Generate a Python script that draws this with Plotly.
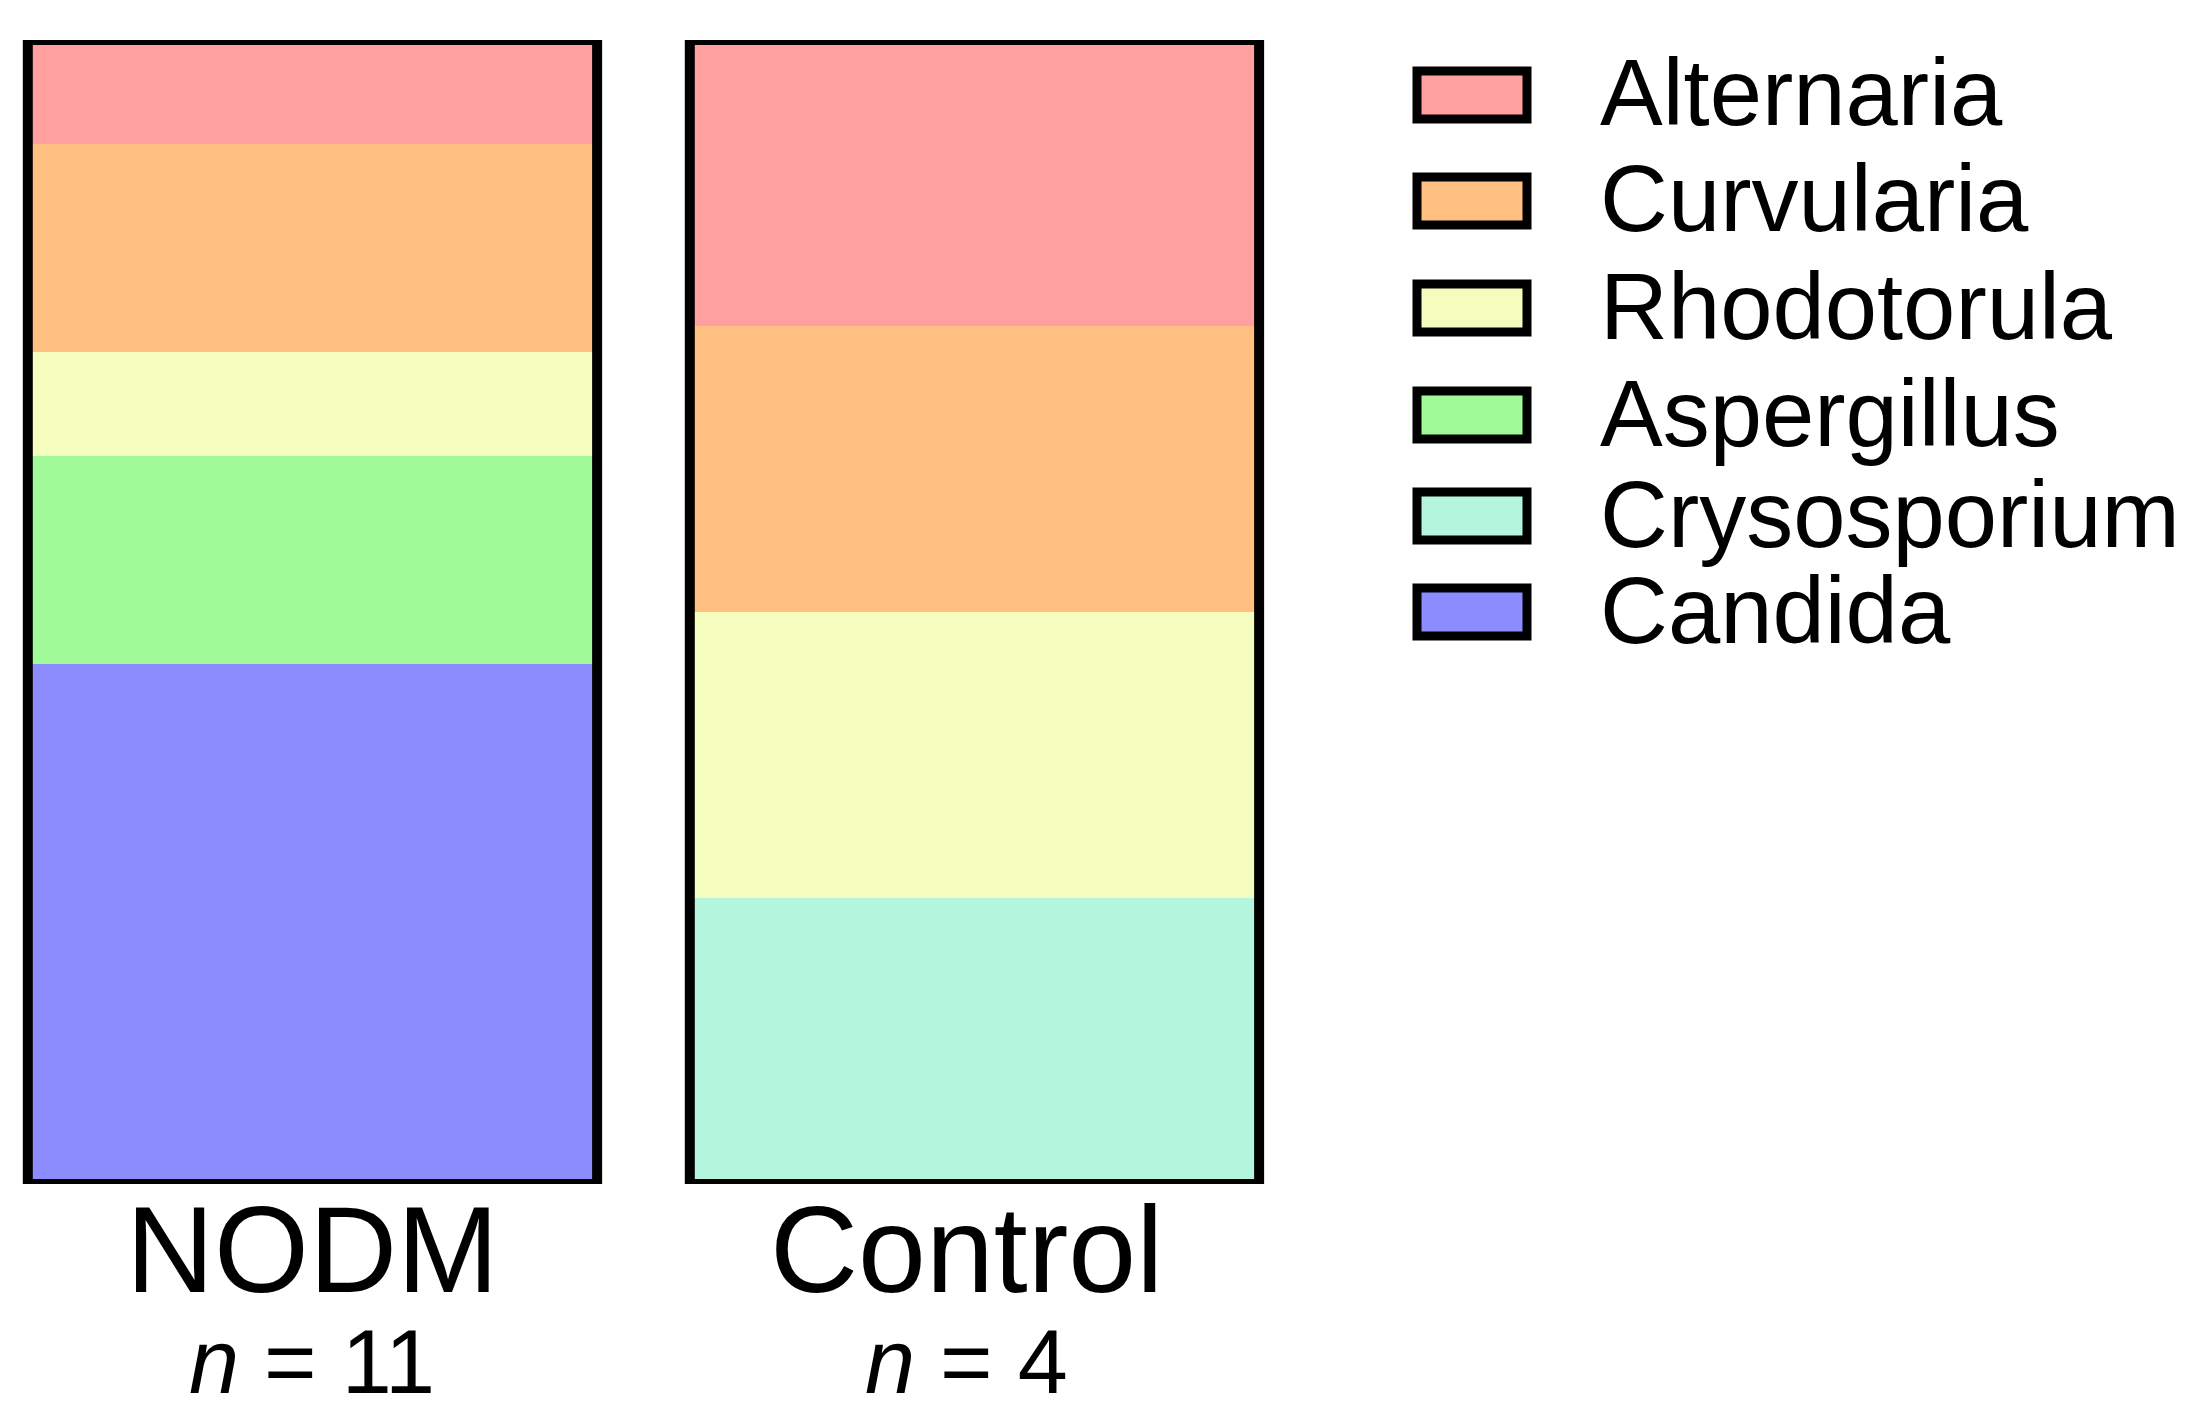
import plotly.graph_objects as go

# ---- data ----
groups = ["NODM", "Control"]
n_values = [11, 4]
genera = ["Alternaria", "Curvularia", "Rhodotorula", "Aspergillus", "Crysosporium", "Candida"]
colors = ["#FF9F9F", "#FFBF80", "#F4FCBE", "#A0FA98", "#B4F5DD", "#8C8CFF"]
counts_nodm = [1, 2, 1, 2, 0, 5]
counts_control = [1, 1, 1, 0, 1, 0]

W, H = 2208, 1426
def px_x(p): return p / W
def px_y(p): return 1 - p / H

counts = [counts_nodm, counts_control]
pct = [[c / n * 100 for c in cs] for cs, n in zip(counts, n_values)]

BAR_W = 0.86
fig = go.Figure()

# stack bottom-to-top: reverse of legend order
base = [0.0, 0.0]
for gi in reversed(range(len(genera))):
    ys = [pct[0][gi], pct[1][gi]]
    fig.add_trace(go.Bar(
        x=groups, y=ys, base=list(base), width=BAR_W,
        name=genera[gi],
        marker=dict(color=colors[gi], line=dict(width=0)),
        showlegend=False, hoverinfo="skip",
    ))
    base = [b + y for b, y in zip(base, ys)]

# outline of each bar
fig.add_trace(go.Bar(
    x=groups, y=base, base=[0, 0], width=BAR_W,
    marker=dict(color="rgba(0,0,0,0)", line=dict(color="black", width=10)),
    showlegend=False, hoverinfo="skip",
))

annotations = []
shapes = []
label_shift = [0, -8]
# group labels
for g, n, xs in zip(groups, n_values, label_shift):
    annotations.append(dict(x=g, xref="x", y=px_y(1250), yref="paper", text=g, xshift=xs,
                            showarrow=False, xanchor="center", yanchor="middle",
                            font=dict(family="Liberation Sans, Arial", size=122, color="black")))
    annotations.append(dict(x=g, xref="x", y=px_y(1362), yref="paper", xshift=xs,
                            text=f"<i>n</i> = {n}",
                            showarrow=False, xanchor="center", yanchor="middle",
                            font=dict(family="Liberation Sans, Arial", size=90, color="black")))

# manual legend
row_y = [95, 201, 308, 415, 516, 612]
for name, col, ry in zip(genera, colors, row_y):
    shapes.append(dict(type="rect", xref="paper", yref="paper",
                       x0=px_x(1417), x1=px_x(1527), y0=px_y(ry - 24), y1=px_y(ry + 24),
                       fillcolor=col, line=dict(color="black", width=9)))
    annotations.append(dict(x=px_x(1598), xref="paper", y=px_y(ry - 2), yref="paper", text=name,
                            showarrow=False, xanchor="left", yanchor="middle",
                            font=dict(family="Liberation Sans, Arial", size=94, color="black")))

fig.update_layout(
    width=W, height=H,
    margin=dict(l=0, r=0, t=0, b=0),
    paper_bgcolor="white", plot_bgcolor="white",
    barmode="overlay",
    xaxis=dict(type="category", range=[-0.472, 1.528], domain=[0, 1324 / W],
               visible=False),
    yaxis=dict(range=[0, 100], domain=[px_y(1184), px_y(40)], visible=False),
    annotations=annotations, shapes=shapes,
    showlegend=False,
)

fig.write_html("out.html", config={"displayModeBar": False},
               post_script="document.body.style.margin='0';document.body.style.overflow='hidden';")
